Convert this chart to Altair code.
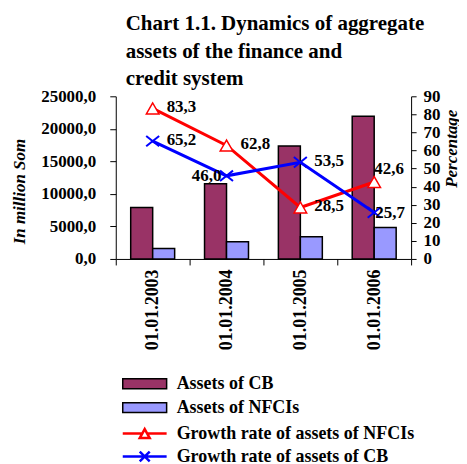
import altair as alt
import pandas as pd

dates = ["01.01.2003", "01.01.2004", "01.01.2005", "01.01.2006"]
bar_series = ["Assets of CB", "Assets of NFCIs"]
assets_cb = [7900, 11550, 17350, 21950]
assets_nfci = [1600, 2650, 3400, 4850]
line_series = ["Growth rate of assets of NFCIs", "Growth rate of assets of CB"]
growth_nfci = [83.3, 62.8, 28.5, 42.6]
growth_cb = [65.2, 46.0, 53.5, 25.7]

bar_df = pd.DataFrame({
    "date": dates * 2,
    "series": [bar_series[0]] * 4 + [bar_series[1]] * 4,
    "value": assets_cb + assets_nfci,
})
line_df = pd.DataFrame({
    "date": dates * 2,
    "series": [line_series[0]] * 4 + [line_series[1]] * 4,
    "rate": growth_nfci + growth_cb,
})

FONT = "Liberation Serif"

x_enc = alt.X(
    "date:N", sort=dates,
    scale=alt.Scale(paddingInner=0, paddingOuter=0),
    axis=alt.Axis(title=None, labelAngle=270, tickBand="extent", tickSize=6,
                  labelPadding=4, labelFont=FONT, labelFontSize=18,
                  labelFontWeight="bold", labelColor="black",
                  domainColor="black", tickColor="black"),
)

left_axis = alt.Axis(
    title="In million Som", titleAngle=270, titleX=-96, titleY=95,
    titleAlign="center", titleBaseline="middle",
    titleFont=FONT, titleFontSize=17, titleFontWeight="bold",
    titleFontStyle="italic", titleColor="black",
    values=[0, 5000, 10000, 15000, 20000, 25000],
    labelExpr="replace(format(datum.value, '.1f'), '.', ',')",
    labelFont=FONT, labelFontSize=17, labelFontWeight="bold", labelColor="black",
    tickSize=6, labelPadding=14, grid=False,
    domainColor="black", tickColor="black",
)
right_axis = alt.Axis(
    orient="right",
    title="Percentage", titleAngle=270, titleX=40, titleY=52,
    titleAlign="center", titleBaseline="middle",
    titleFont=FONT, titleFontSize=17, titleFontWeight="bold",
    titleFontStyle="italic", titleColor="black",
    values=list(range(0, 91, 10)),
    labelFont=FONT, labelFontSize=17, labelFontWeight="bold", labelColor="black",
    tickSize=5, labelPadding=7, grid=False,
    domainColor="black", tickColor="black",
)

rect_path = "M-1,-0.83L6.33,-0.83L6.33,0.83L-1,0.83Z"
tri_path = "M-1,0L2.25,0M3.08,0L6.33,0M2.67,-0.75L3.5,0.75L1.84,0.75Z"
x_path = "M-1,0L6.33,0M1.84,-0.83L3.5,0.83M1.84,0.83L3.5,-0.83"

leg_common = dict(title=None, orient="none", legendX=4, symbolSize=144,
                  labelFont=FONT, labelFontSize=18, labelFontWeight="bold",
                  labelColor="black", labelOffset=39, labelLimit=400,
                  rowPadding=6, symbolOpacity=1)

bars = alt.Chart(bar_df).mark_bar(stroke="black", strokeWidth=1.5).encode(
    x=x_enc,
    xOffset=alt.XOffset("series:N", sort=bar_series,
                        scale=alt.Scale(paddingInner=0, paddingOuter=0.68)),
    y=alt.Y("value:Q", scale=alt.Scale(domain=[0, 25000]), axis=left_axis),
    fill=alt.Fill("series:N",
                  scale=alt.Scale(domain=bar_series, range=["#993366", "#9999FF"]),
                  legend=alt.Legend(legendY=279, symbolType=rect_path,
                                    symbolStrokeColor="black", symbolStrokeWidth=1.5,
                                    **leg_common)),
)

y_rate = alt.Y("rate:Q", scale=alt.Scale(domain=[0, 90]), axis=right_axis)

line_nfci = alt.Chart(line_df).transform_filter(
    alt.datum.series == line_series[0]
).mark_line(strokeWidth=3).encode(
    x=x_enc, y=y_rate,
    stroke=alt.Stroke("series:N",
                      scale=alt.Scale(domain=[line_series[0]], range=["#FF0000"]),
                      legend=alt.Legend(legendY=329, symbolType=tri_path,
                                        symbolStrokeWidth=2.5, symbolFillColor="white",
                                        **leg_common)),
)
line_cb = alt.Chart(line_df).transform_filter(
    alt.datum.series == line_series[1]
).mark_line(strokeWidth=3).encode(
    x=x_enc, y=y_rate,
    color=alt.Color("series:N",
                    scale=alt.Scale(domain=[line_series[1]], range=["#0000FF"]),
                    legend=alt.Legend(legendY=352, symbolType=x_path,
                                      symbolStrokeWidth=2.5, symbolFillColor="white",
                                      **leg_common)),
)

tri_pts = alt.Chart(line_df).transform_filter(
    alt.datum.series == line_series[0]
).mark_point(shape="triangle-up", size=160, filled=True, fill="white",
             stroke="#FF0000", strokeWidth=1.5, opacity=1).encode(x=x_enc, y=y_rate)

x_pts = alt.Chart(line_df).transform_filter(
    alt.datum.series == line_series[1]
).mark_point(shape="M-1,-0.8L1,0.8M-1,0.8L1,-0.8", size=169, filled=False,
             stroke="#0000FF", strokeWidth=2, opacity=1).encode(x=x_enc, y=y_rate)

lab_base = alt.Chart(line_df).transform_calculate(
    label="replace(format(datum.rate, '.1f'), '.', ',')",
    key="datum.series + '|' + datum.date",
)
k_b = line_series[0] + "|" + dates[3]
k_c = line_series[1] + "|" + dates[1]
k_d = line_series[1] + "|" + dates[3]
txt = dict(font=FONT, fontSize=17, fontWeight="bold", color="black", baseline="middle")

lab_a = lab_base.transform_filter(
    f"datum.key !== '{k_b}' && datum.key !== '{k_c}' && datum.key !== '{k_d}'"
).mark_text(align="left", dx=14, dy=-1, **txt).encode(x=x_enc, y=y_rate, text="label:N")
lab_b = lab_base.transform_filter(f"datum.key === '{k_b}'").mark_text(
    align="left", dx=0, dy=-13, **txt).encode(x=x_enc, y=y_rate, text="label:N")
lab_c = lab_base.transform_filter(f"datum.key === '{k_c}'").mark_text(
    align="right", dx=-5, dy=0, **txt).encode(x=x_enc, y=y_rate, text="label:N")
lab_d = lab_base.transform_filter(f"datum.key === '{k_d}'").mark_text(
    align="left", dx=1, dy=1, **txt).encode(x=x_enc, y=y_rate, text="label:N")

right = alt.layer(line_nfci, line_cb, tri_pts, x_pts, lab_a, lab_b, lab_c, lab_d)

chart = alt.layer(bars, right).resolve_scale(y="independent").properties(
    width=296, height=163,
    padding={"left": 3, "top": 5, "right": 0, "bottom": 0},
    title=alt.Title(
        text=["Chart 1.1. Dynamics of aggregate", "assets of the finance and", "credit system"],
        anchor="start", frame="group", dx=10, font=FONT, fontSize=21,
        fontWeight="bold", lineHeight=27.5, color="black", offset=-2),
).configure_view(stroke=None)

chart.save("out.html", embed_options={"renderer": "svg", "actions": False})
